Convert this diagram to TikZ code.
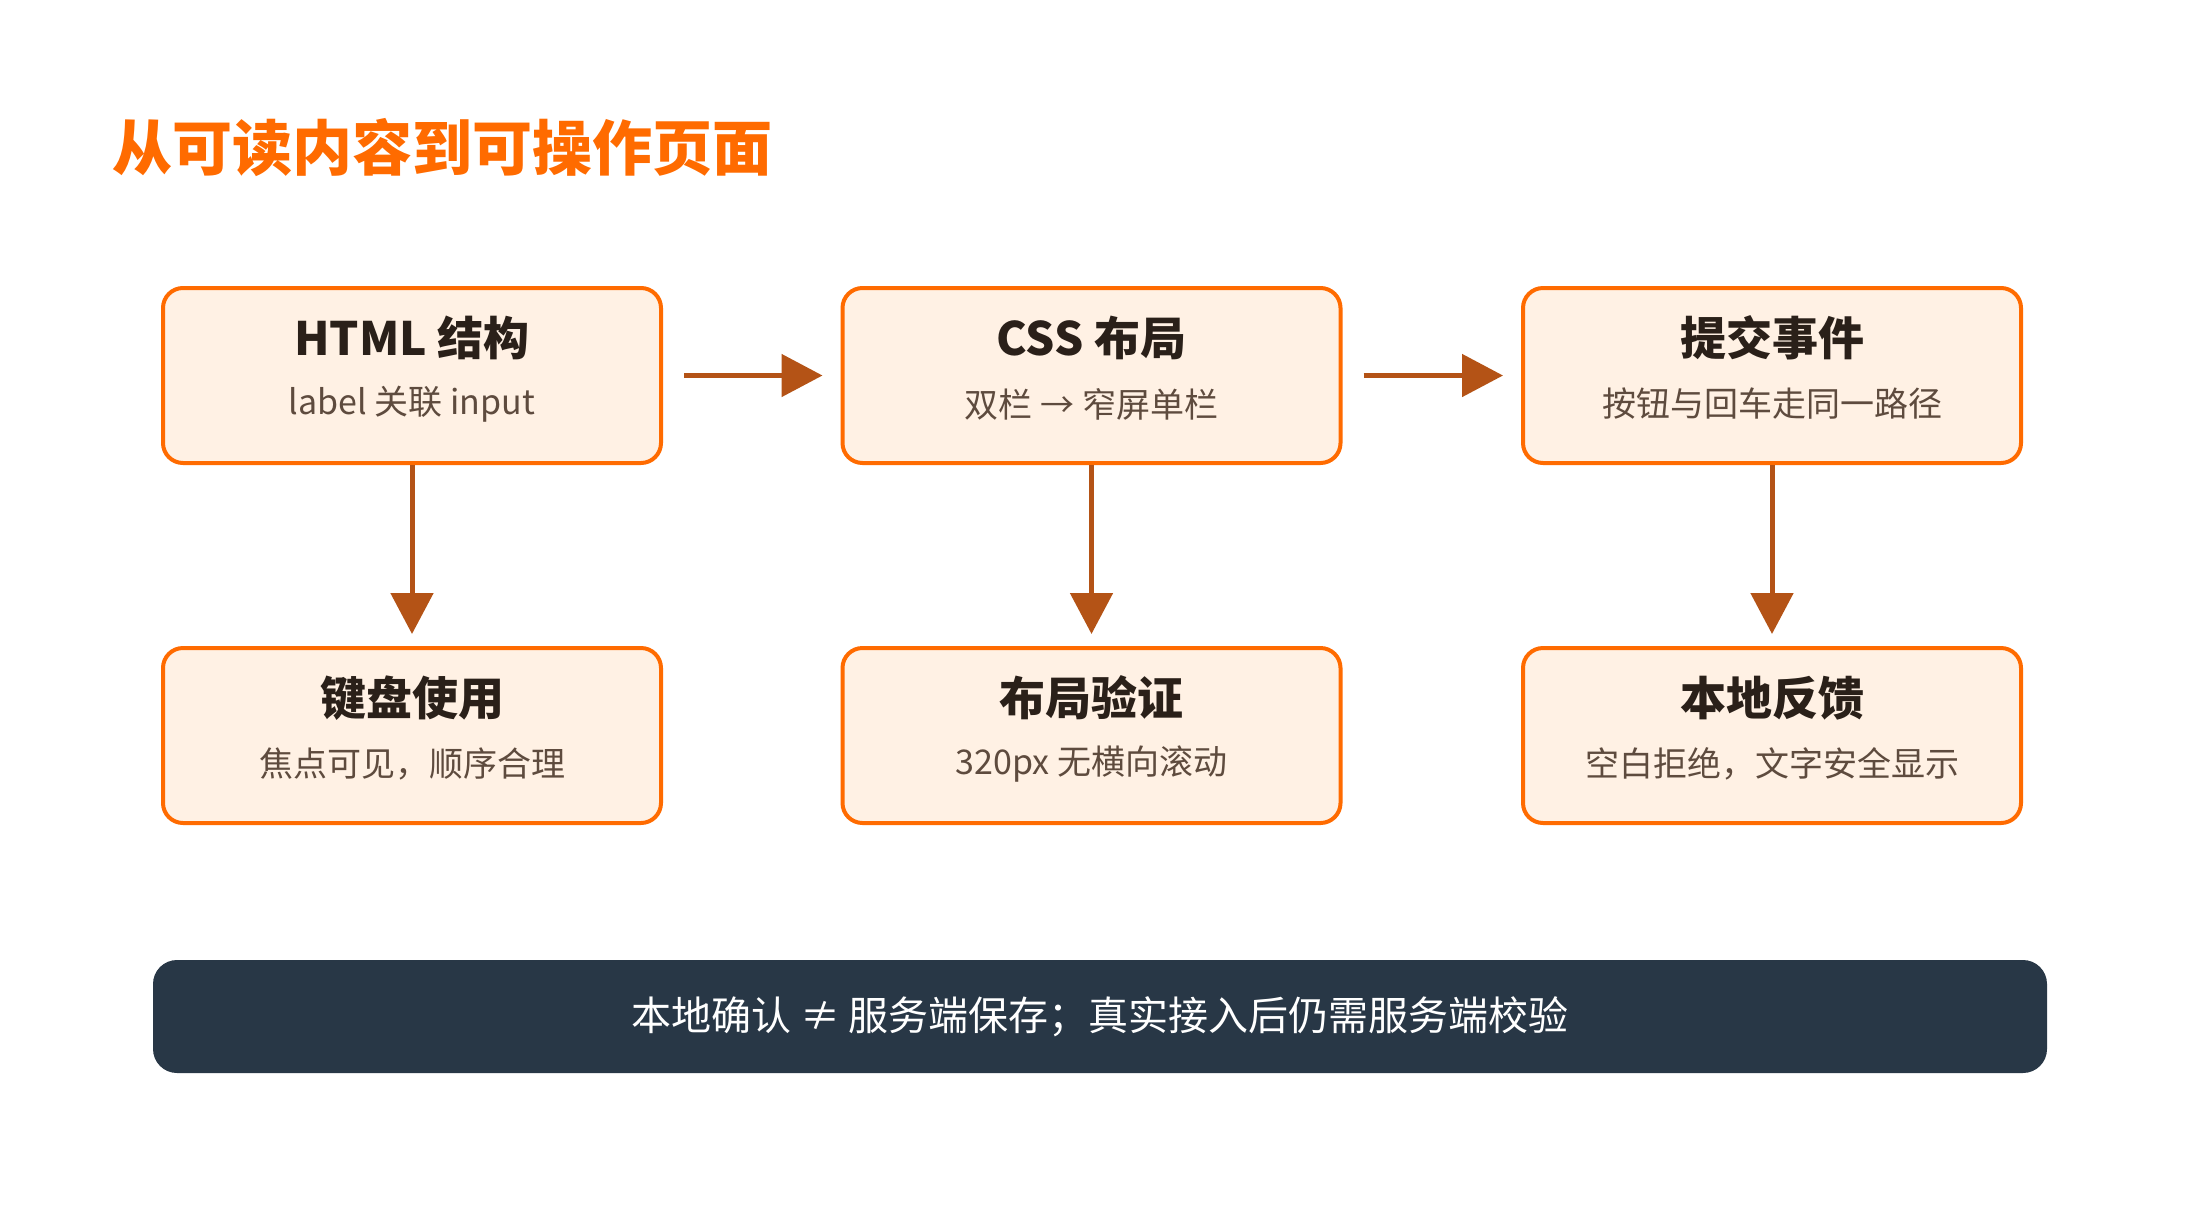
\documentclass[tikz,border=0pt]{standalone}
\usepackage{fontspec}
\setmainfont{Noto Sans CJK SC}
\usetikzlibrary{arrows.meta}
\definecolor{accent}{HTML}{FF6B00}
\definecolor{boxfill}{HTML}{FFF1E4}
\definecolor{arrowc}{HTML}{B45316}
\definecolor{headtxt}{HTML}{2A2019}
\definecolor{subtxt}{HTML}{5E4B3E}
\definecolor{barfill}{HTML}{283746}
\tikzset{
  card/.style={draw=accent, line width=4pt, fill=boxfill, rounded corners=20pt,
    minimum width=498pt, minimum height=175pt, inner sep=0pt},
  cardtitle/.style={inner sep=0pt, text=headtxt, font=\fontsize{46}{52}\selectfont\bfseries},
  cardsub/.style={inner sep=0pt, text=subtxt, font=\fontsize{34}{40}\selectfont},
  flow/.style={draw=arrowc, line width=5pt, -{Triangle[length=41pt,width=42pt]}},
}
\begin{document}
\begin{tikzpicture}[x=1pt,y=-1pt]
\useasboundingbox (0,0) rectangle (2200,1208);
\fill[white] (0,0) rectangle (2200,1208);

\node[anchor=west, inner sep=0pt, text=accent, font=\fontsize{60}{66}\selectfont\bfseries] (title) at (112,148) {从可读内容到可操作页面};

% top row
\node[card] (b1) at (412,375.5) {};
\node[card] (b2) at (1091.5,375.5) {};
\node[card] (b3) at (1772,375.5) {};
% bottom row
\node[card] (d1) at (412,735.5) {};
\node[card] (d2) at (1091.5,735.5) {};
\node[card] (d3) at (1772,735.5) {};

\node[cardtitle] (b1t) at (412,338) {HTML 结构};
\node[cardsub] (b1s) at (412,404) {label 关联 input};
\node[cardtitle] (b2t) at (1091.5,338) {CSS 布局};
\node[cardsub] (b2s) at (1091.5,404) {双栏 → 窄屏单栏};
\node[cardtitle] (b3t) at (1772,338) {提交事件};
\node[cardsub] (b3s) at (1772,404) {按钮与回车走同一路径};

\node[cardtitle] (d1t) at (412,698) {键盘使用};
\node[cardsub] (d1s) at (412,764) {焦点可见，顺序合理};
\node[cardtitle] (d2t) at (1091.5,698) {布局验证};
\node[cardsub] (d2s) at (1091.5,764) {320px 无横向滚动};
\node[cardtitle] (d3t) at (1772,698) {本地反馈};
\node[cardsub] (d3s) at (1772,764) {空白拒绝，文字安全显示};

% connectors
\draw[flow, shorten <=21pt, shorten >=18pt] (b1.east) -- (b2.west);
\draw[flow, shorten <=21pt, shorten >=18pt] (b2.east) -- (b3.west);
\draw[flow, shorten >=12pt] (b1.south) -- (d1.north);
\draw[flow, shorten >=12pt] (b2.south) -- (d2.north);
\draw[flow, shorten >=12pt] (b3.south) -- (d3.north);

% bottom bar
\node[fill=barfill, rounded corners=24pt, minimum width=1894pt, minimum height=113pt, inner sep=0pt] (bar) at (1100,1016.5) {};
\node[inner sep=0pt, text=white, font=\fontsize{40}{46}\selectfont] (bart) at (bar.center) {本地确认 ≠ 服务端保存；真实接入后仍需服务端校验};
\end{tikzpicture}
\end{document}
